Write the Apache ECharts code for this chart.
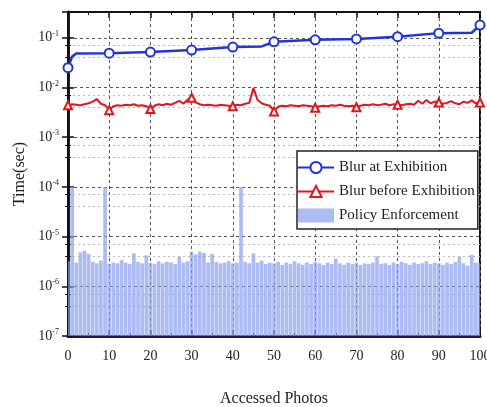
<!DOCTYPE html>
<html>
<head>
<meta charset="utf-8">
<style>
  html, body { margin: 0; padding: 0; background: #fff; }
  #chart { width: 487px; height: 407px; }
</style>
<script src="https://cdn.jsdelivr.net/npm/echarts@6/dist/echarts.min.js"></script>
</head>
<body>
<div id="chart"></div>
<script>
// x positions (accessed photo index)
const photos = Array.from({ length: 101 }, (_, i) => i)

// Blur at Exhibition: vertices of the line, markers every 10 photos
const blurAtX = [0, 1, 2, 10, 20, 30, 40, 47, 50, 60, 70, 80, 90, 98, 100]
const blurAtY = [0.025, 0.042, 0.048, 0.049, 0.0515, 0.0565, 0.065, 0.067, 0.083, 0.091, 0.095, 0.105, 0.124, 0.126, 0.18]

// Blur before Exhibition, one value per photo
const blurBefore = [
  0.0044, 0.0046, 0.0045, 0.0044, 0.0046, 0.0048, 0.0052, 0.0058, 0.0047, 0.0044,
  0.0035, 0.0042, 0.0044, 0.0043, 0.0045, 0.0044, 0.0046, 0.0043, 0.0044, 0.0042,
  0.0037, 0.0043, 0.0046, 0.0044, 0.0047, 0.0045, 0.0049, 0.0054, 0.0047, 0.0057,
  0.0062, 0.0050, 0.0046, 0.0044, 0.0045, 0.0044, 0.0043, 0.0045, 0.0044, 0.0043,
  0.0042, 0.0045, 0.0044, 0.0047, 0.0049, 0.0098, 0.0056, 0.0048, 0.0045, 0.0043,
  0.0033, 0.0041, 0.0043, 0.0042, 0.0044, 0.0043, 0.0042, 0.0044, 0.0043, 0.0042,
  0.0039, 0.0042, 0.0043, 0.0042, 0.0044, 0.0043, 0.0045, 0.0043, 0.0042, 0.0043,
  0.0040, 0.0043, 0.0045, 0.0044, 0.0046, 0.0044, 0.0045, 0.0047, 0.0044, 0.0046,
  0.0045, 0.0044, 0.0046, 0.0047, 0.0045, 0.0054, 0.0047, 0.0056, 0.0048, 0.0052,
  0.0050, 0.0047, 0.0049, 0.0053, 0.0048, 0.0046, 0.0052, 0.0049, 0.0055, 0.0048,
  0.0050
]

// Policy Enforcement bars, one per photo
const policy = [
  3.2e-6, 1.0e-4, 3.0e-6, 4.8e-6, 5.2e-6, 4.5e-6, 3.1e-6, 2.9e-6, 3.3e-6, 1.0e-4,
  2.8e-6, 3.0e-6, 2.9e-6, 3.4e-6, 3.0e-6, 2.8e-6, 4.6e-6, 3.1e-6, 2.9e-6, 4.2e-6,
  3.0e-6, 2.8e-6, 3.2e-6, 2.9e-6, 3.1e-6, 3.0e-6, 2.8e-6, 3.9e-6, 3.0e-6, 3.2e-6,
  4.9e-6, 4.4e-6, 5.0e-6, 4.7e-6, 3.0e-6, 4.5e-6, 3.1e-6, 2.9e-6, 3.0e-6, 3.2e-6,
  2.9e-6, 3.0e-6, 1.0e-4, 3.1e-6, 2.9e-6, 4.6e-6, 3.0e-6, 3.3e-6, 2.8e-6, 3.0e-6,
  2.9e-6, 3.1e-6, 2.7e-6, 3.0e-6, 2.8e-6, 3.2e-6, 2.9e-6, 2.7e-6, 3.0e-6, 2.8e-6,
  3.1e-6, 2.9e-6, 2.7e-6, 3.0e-6, 2.8e-6, 3.6e-6, 2.9e-6, 2.7e-6, 3.0e-6, 2.8e-6,
  3.0e-6, 2.7e-6, 2.9e-6, 2.8e-6, 3.0e-6, 4.0e-6, 2.8e-6, 2.9e-6, 2.7e-6, 3.0e-6,
  2.8e-6, 3.1e-6, 2.9e-6, 2.7e-6, 3.0e-6, 2.8e-6, 2.9e-6, 3.2e-6, 2.8e-6, 3.0e-6,
  2.9e-6, 2.7e-6, 3.0e-6, 2.8e-6, 3.1e-6, 3.9e-6, 2.9e-6, 2.6e-6, 4.3e-6, 3.0e-6,
  2.9e-6
]

const Y_MIN = 1e-7
const Y_MAX = 0.33
const FONT = 'Liberation Serif'

const chart = echarts.init(document.getElementById('chart'))

// only every 10th photo carries a marker
const blurAtData = blurAtX.map((x, i) =>
  x % 10 === 0 ? [x, blurAtY[i]] : { value: [x, blurAtY[i]], symbol: 'none' })
const blurBeforeData = photos.map((x, i) =>
  x % 10 === 0 ? [x, blurBefore[i]] : { value: [x, blurBefore[i]], symbol: 'none' })

const yLabel = v => {
  const e = Math.round(Math.log10(v))
  return '{b|10}{s|' + e + '}'
}

const gridLine = { show: true, lineStyle: { color: '#555', type: [3, 3], width: 1 } }
const minorLine = { show: true, lineStyle: { color: '#bbb', type: [2, 3], width: 1 } }

const option = {
  animation: false,
  grid: {
    left: 68, right: 7, top: 12, bottom: 71,
    outerBoundsMode: 'none',
    show: true, borderColor: '#111', borderWidth: 2, backgroundColor: 'transparent'
  },
  legend: {
    orient: 'vertical',
    left: 297, top: 151,
    padding: [9, 3, 6, 0],
    itemWidth: 36, itemHeight: 14, itemGap: 9,
    backgroundColor: '#fff',
    borderColor: '#222', borderWidth: 1.5,
    textStyle: { fontFamily: FONT, fontSize: 15, color: '#222' },
    data: [
      { name: 'Blur at Exhibition' },
      { name: 'Blur before Exhibition' },
      { name: 'Policy Enforcement', icon: 'rect' }
    ]
  },
  xAxis: [
    {
      type: 'value', min: 0, max: 100, interval: 10,
      name: 'Accessed Photos', nameLocation: 'middle', nameGap: 55,
      nameTextStyle: { fontFamily: FONT, fontSize: 16, color: '#222' },
      axisLine: { show: true, lineStyle: { color: '#1b1b45', width: 3 } },
      axisTick: { show: true, inside: true, length: 6, lineStyle: { color: '#111', width: 1.5 } },
      minorTick: { show: true, splitNumber: 2, length: 3, lineStyle: { color: '#111' } },
      axisLabel: { fontFamily: FONT, fontSize: 14, color: '#222', margin: 13 },
      splitLine: gridLine
    },
    {
      type: 'value', min: 0, max: 100, interval: 10, position: 'top',
      axisLine: { show: true, lineStyle: { color: '#111', width: 2 } },
      axisTick: { show: true, inside: true, length: 6, lineStyle: { color: '#111', width: 1.5 } },
      minorTick: { show: true, splitNumber: 2, length: 3, lineStyle: { color: '#111' } },
      axisLabel: { show: false },
      splitLine: { show: false }
    }
  ],
  yAxis: [
    {
      type: 'log', logBase: 10, min: Y_MIN, max: Y_MAX, interval: 1,
      name: 'Time(sec)', nameLocation: 'middle', nameGap: 32,
      nameTextStyle: { fontFamily: FONT, fontSize: 16, color: '#222' },
      axisLine: { show: true, lineStyle: { color: '#1b1b45', width: 3 } },
      axisTick: { show: true, inside: true, length: 6, lineStyle: { color: '#111', width: 1.5 } },
      minorTick: { show: true, splitNumber: 3, length: 3, lineStyle: { color: '#111' } },
      minorSplitLine: minorLine,
      axisLabel: {
        showMaxLabel: false,
        margin: 9,
        formatter: yLabel,
        rich: {
          b: { fontFamily: FONT, fontSize: 14, color: '#222' },
          s: { fontFamily: FONT, fontSize: 8, color: '#222', verticalAlign: 'bottom', padding: [0, 0, 8, 0] }
        }
      },
      splitLine: gridLine
    },
    {
      type: 'log', logBase: 10, min: Y_MIN, max: Y_MAX, interval: 1, position: 'right',
      axisLine: { show: true, lineStyle: { color: '#111', width: 2 } },
      axisTick: { show: true, inside: true, length: 6, lineStyle: { color: '#111', width: 1.5 } },
      minorTick: { show: true, splitNumber: 3, length: 3, lineStyle: { color: '#111' } },
      axisLabel: { show: false },
      splitLine: { show: false }
    }
  ],
  series: [
    {
      name: 'Policy Enforcement',
      type: 'custom',
      coordinateSystem: 'cartesian2d',
      clip: true,
      z: 1,
      itemStyle: { color: 'rgba(140,160,242,0.7)' },
      encode: { x: 0, y: 1 },
      data: photos.map((x, i) => [x, policy[i]]),
      renderItem: (params, api) => {
        const x = api.value(0)
        const top = api.coord([x, api.value(1)])
        const base = api.coord([x, Y_MIN])
        const unit = api.coord([1, Y_MIN])[0] - api.coord([0, Y_MIN])[0]
        const w = unit * 0.9
        return {
          type: 'rect',
          shape: { x: top[0] - w / 2, y: top[1], width: w, height: base[1] - top[1] },
          style: api.style()
        }
      }
    },
    {
      name: 'Blur before Exhibition',
      type: 'line',
      z: 3,
      symbol: 'triangle',
      symbolSize: 8,
      showAllSymbol: true,
      color: '#e3141e',
      lineStyle: { color: '#e3141e', width: 2 },
      itemStyle: { color: '#fff', borderColor: '#e3141e', borderWidth: 2 },
      data: blurBeforeData
    },
    {
      name: 'Blur at Exhibition',
      type: 'line',
      z: 4,
      symbol: 'circle',
      symbolSize: 9,
      showAllSymbol: true,
      color: '#2233dd',
      lineStyle: { color: '#2233dd', width: 2.5 },
      itemStyle: { color: '#fff', borderColor: '#2233dd', borderWidth: 2 },
      data: blurAtData
    }
  ]
}

chart.setOption(option)
</script>
</body>
</html>
